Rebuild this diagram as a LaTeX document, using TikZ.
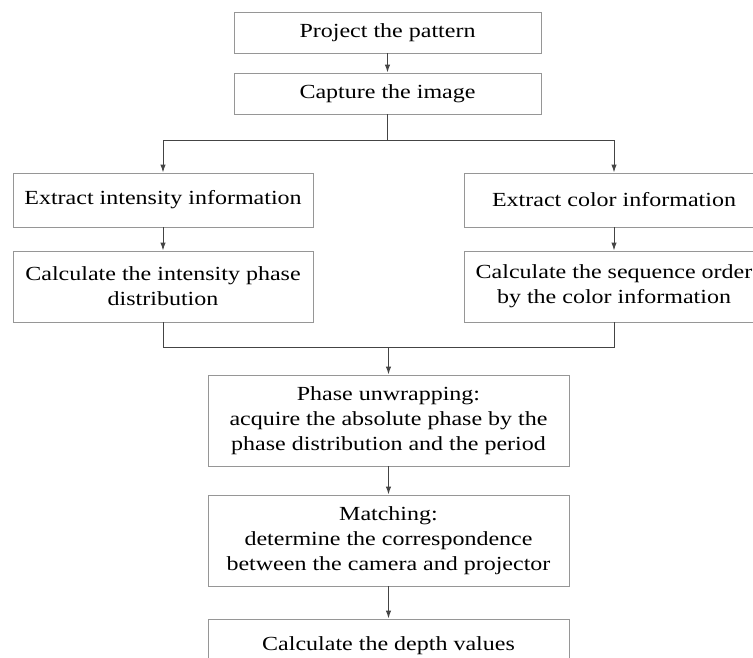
\documentclass[tikz,border=0pt]{standalone}
\usepackage{fontspec}
\setmainfont{Liberation Serif}[FakeStretch=1.2]
\usepackage{tikz}
\usetikzlibrary{arrows.meta}

\begin{document}
\begin{tikzpicture}[x=1pt,y=-1pt,line cap=rect,
	stepbox/.style={draw=custcol_99_99_99, line width=1.0pt, align=center, inner sep=0,
		font=\fontsize{20pt}{25pt}\selectfont},
	link/.style={line width=1.0pt, custcol_44_44_44},
	tip/.style={link, -{Latex[length=8pt,width=5.5pt]}}]
	\definecolor{custcol_99_99_99}{RGB}{150, 150, 150}
	\definecolor{custcol_44_44_44}{RGB}{68, 68, 68}
	\useasboundingbox (0.0,0.0) rectangle (753.0,657.0);
	% boxes
	\node[stepbox, minimum width=307, minimum height=41] (project) at (387.5,32.5) {Project the pattern};
	\node[stepbox, minimum width=307, minimum height=41] (capture) at (387.5,93.5) {Capture the image};
	\node[stepbox, minimum width=300, minimum height=54] (extInt) at (163.0,200.0) {Extract intensity information};
	\node[stepbox, minimum width=300, minimum height=54] (extCol) at (614.0,200.0) {Extract color information};
	\node[stepbox, minimum width=300, minimum height=71] (calcInt) at (163.0,286.5) {Calculate the intensity phase\\distribution};
	\node[stepbox, minimum width=300, minimum height=71] (calcSeq) at (614.0,286.5) {Calculate the sequence order\\by the color information};
	\node[stepbox, minimum width=361, minimum height=91] (phase) at (388.5,420.5) {Phase unwrapping:\\acquire the absolute phase by the\\phase distribution and the period};
	\node[stepbox, minimum width=361, minimum height=91] (matching) at (388.5,540.5) {Matching:\\determine the correspondence\\between the camera and projector};
	\node[stepbox, minimum width=361, minimum height=54] (depth) at (388.5,646.0) {Calculate the depth values};
	\coordinate (split) at (387.5,140.0);
	\coordinate (merge) at (388.5,347.0);
	% connectors
	\draw [tip] (project) -- (capture);
	\draw [link] (capture) -- (split);
	\draw [tip] (split) -| (extInt.north);
	\draw [tip] (split) -| (extCol.north);
	\draw [tip] (extInt) -- (calcInt);
	\draw [tip] (extCol) -- (calcSeq);
	\draw [link] (calcInt.south) |- (merge);
	\draw [link] (calcSeq.south) |- (merge);
	\draw [tip] (merge) -- (phase.north);
	\draw [tip] (phase) -- (matching);
	\draw [tip] (matching) -- (depth);
\end{tikzpicture}
\end{document}
